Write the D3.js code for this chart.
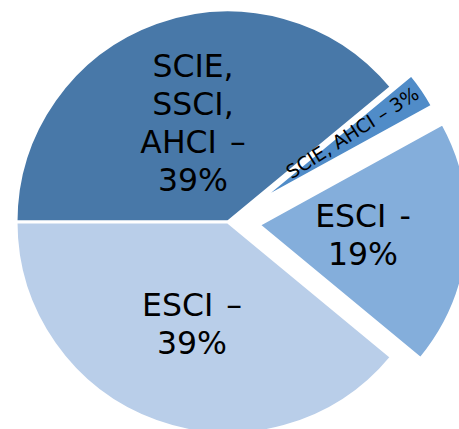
<!DOCTYPE html>
<html><head><meta charset="utf-8">
<script src="https://cdn.jsdelivr.net/npm/d3@7"></script>
<style>html,body{margin:0;padding:0;background:#fff;overflow:hidden}</style>
</head><body>
<svg id="c" width="459" height="429"></svg>
<script>
const categories = ["SCIE, SSCI, AHCI", "SCIE, AHCI", "ESCI", "ESCI"];
const values = [39, 3, 19, 39];
const labels = [["SCIE,", "SSCI,", "AHCI –", "39%"], ["SCIE, AHCI – 3%"], ["ESCI -", "19%"], ["ESCI –", "39%"]];
const colors = ["#4878a8", "#508cc8", "#84aedb", "#b9cee9"];
const explode = [0, 36, 31, 0];
const radiusScale = [1, 0.94, 0.99, 1];

const svg = d3.select("#c");
const cx = 228, cy = 222, R = 212;
const g = svg.append("g").attr("transform", `translate(${cx},${cy})`);
const pie = d3.pie().value(d => d).sort(null).startAngle(-Math.PI / 2).endAngle(1.5 * Math.PI);
const arcs = pie(values);

arcs.forEach((a, i) => {
  const mid = (a.startAngle + a.endAngle) / 2;
  const dx = Math.sin(mid) * explode[i], dy = -Math.cos(mid) * explode[i];
  const arc = d3.arc().innerRadius(0).outerRadius(R * radiusScale[i]);
  const sg = g.append("g").attr("transform", `translate(${dx},${dy})`);
  sg.append("path").attr("d", arc(a)).attr("fill", colors[i]).attr("stroke", "#fff").attr("stroke-width", 3).attr("stroke-linejoin", "miter");
});

const font = "DejaVu Sans, Verdana, sans-serif";
const bigPos = [[193 - cx, 77 - cy], null, [363 - cx, 227 - cy], [192 - cx, 316 - cy]];
[0, 2, 3].forEach(i => {
  const t = g.append("text").attr("font-family", font).attr("font-size", 31.5).attr("fill", "#000")
    .attr("text-anchor", "middle").attr("word-spacing", 3);
  labels[i].forEach((l, j) => {
    t.append("tspan").attr("x", bigPos[i][0]).attr("y", bigPos[i][1] + j * 38).text(l);
  });
});
{
  const a = arcs[1];
  const mid = (a.startAngle + a.endAngle) / 2 - 0.025;
  const rr = 153;
  const x = Math.sin(mid) * rr, y = -Math.cos(mid) * rr;
  const deg = -32.5;
  g.append("text").attr("font-family", font).attr("font-size", 19).attr("fill", "#000")
    .attr("text-anchor", "middle").attr("dy", "0.35em")
    .attr("transform", `translate(${x},${y}) rotate(${deg})`).text(labels[1][0]);
}
</script>
</body></html>
